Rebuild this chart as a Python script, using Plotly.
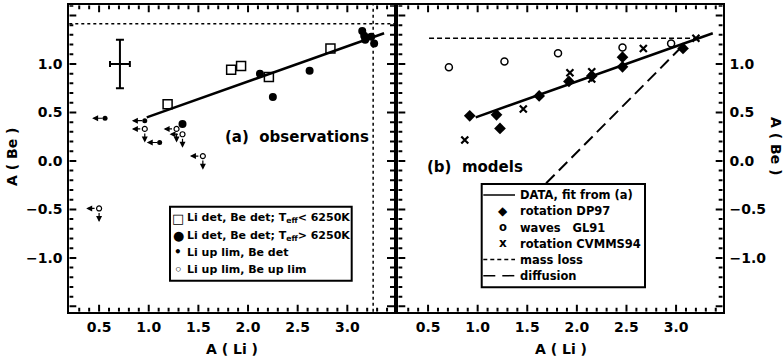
import plotly.graph_objects as go

# ---------------- panel (a) observations ----------------
sq_li = [1.19, 1.83, 1.93, 2.21, 2.83]            # Li det, Be det; Teff < 6250K
sq_be = [0.585, 0.94, 0.98, 0.865, 1.16]
hot_li = [1.34, 2.12, 2.25, 2.62, 3.15, 3.17, 3.18, 3.24, 3.27]   # Teff > 6250K
hot_be = [0.38, 0.90, 0.66, 0.93, 1.34, 1.29, 1.25, 1.28, 1.21]
lilim_li = [0.56, 0.96, 1.11]                      # Li up lim, Be det
lilim_be = [0.44, 0.415, 0.19]
bothlim_li = [0.50, 0.96, 1.28, 1.34, 1.545]       # Li up lim, Be up lim
bothlim_be = [-0.49, 0.33, 0.33, 0.275, 0.05]
err_li = [0.71]
err_be = [1.0]
err_dli = [0.10]
err_dbe = [0.25]
fit_li = [0.98, 3.37]
fit_slope = 0.363
fit_intercept = 0.094
li_met = 3.26
be_met = 1.415

# ---------------- panel (b) models ----------------
dp97_li = [0.92, 1.19, 1.225, 1.62, 1.92, 2.15, 2.46, 2.46, 3.07]
dp97_be = [0.465, 0.475, 0.335, 0.67, 0.82, 0.875, 0.97, 1.07, 1.16]
gl91_li = [0.71, 1.27, 1.81, 2.46, 2.95]
gl91_be = [0.965, 1.025, 1.11, 1.17, 1.21]
cv_li = [0.87, 1.46, 1.93, 2.15, 2.15, 2.67, 3.20]
cv_be = [0.215, 0.535, 0.91, 0.92, 0.845, 1.16, 1.265]
massloss_li = [0.51, 3.21]
massloss_be = [1.265, 1.265]
diff_li = [1.69, 3.06]
diff_be = [-0.23, 1.18]

# legend texts
legend_a = ["Li det, Be det; T<sub>eff</sub>< 6250K", "Li det, Be det; T<sub>eff</sub>> 6250K",
            "Li up lim, Be det", "Li up lim, Be up lim"]
legend_b = ["DATA, fit from (a)", "rotation DP97", "waves\u00a0\u00a0\u00a0GL91",
            "rotation CVMMS94", "mass loss", "diffusion"]

# axes
X_RANGE = [0.2, 3.47]
Y_RANGE = [-1.555, 1.605]
x_tick_index = list(range(3, 35))     # ticks every 0.1 in A(Li)
y_tick_index = list(range(-15, 17))   # ticks every 0.1 in A(Be)

LEFT_ARROW = 0.13
DOWN_ARROW = 0.14

FONT = "DejaVu Sans"
W, H = 783, 360
fit_be = [fit_intercept + fit_slope * v for v in fit_li]

fig = go.Figure()

# ---- panel (a) ----
fig.add_trace(go.Scatter(x=fit_li, y=fit_be, mode="lines", line=dict(color="black", width=2.5),
                         xaxis="x", yaxis="y"))
fig.add_trace(go.Scatter(x=err_li, y=err_be, mode="markers", marker=dict(size=1, color="black"),
                         error_x=dict(type="data", array=err_dli, color="black", thickness=2, width=3),
                         error_y=dict(type="data", array=err_dbe, color="black", thickness=2, width=4),
                         xaxis="x", yaxis="y"))
fig.add_trace(go.Scatter(x=sq_li, y=sq_be, mode="markers",
                         marker=dict(symbol="square-open", size=9, color="black", line=dict(width=1.5)),
                         xaxis="x", yaxis="y"))
fig.add_trace(go.Scatter(x=hot_li, y=hot_be, mode="markers",
                         marker=dict(symbol="circle", size=8, color="black"), xaxis="x", yaxis="y"))
fig.add_trace(go.Scatter(x=lilim_li, y=lilim_be, mode="markers",
                         marker=dict(symbol="circle", size=5, color="black"), xaxis="x", yaxis="y"))
fig.add_trace(go.Scatter(x=bothlim_li, y=bothlim_be, mode="markers",
                         marker=dict(symbol="circle-open", size=5, color="black", line=dict(width=1.2)),
                         xaxis="x", yaxis="y"))

# ---- panel (b) ----
fig.add_trace(go.Scatter(x=fit_li, y=fit_be, mode="lines", line=dict(color="black", width=2.5),
                         xaxis="x2", yaxis="y2"))
fig.add_trace(go.Scatter(x=dp97_li, y=dp97_be, mode="markers",
                         marker=dict(symbol="diamond", size=9, color="black"), xaxis="x2", yaxis="y2"))
fig.add_trace(go.Scatter(x=gl91_li, y=gl91_be, mode="markers",
                         marker=dict(symbol="circle-open", size=7, color="black", line=dict(width=1.5)),
                         xaxis="x2", yaxis="y2"))
fig.add_trace(go.Scatter(x=cv_li, y=cv_be, mode="markers",
                         marker=dict(symbol="x-thin-open", size=7, color="black", line=dict(width=2.2)),
                         xaxis="x2", yaxis="y2"))
fig.add_trace(go.Scatter(x=massloss_li, y=massloss_be, mode="lines",
                         line=dict(color="black", width=1.5, dash="5px,3px"), xaxis="x2", yaxis="y2"))
fig.add_trace(go.Scatter(x=diff_li, y=diff_be, mode="lines",
                         line=dict(color="black", width=2, dash="12px,6px"), xaxis="x2", yaxis="y2"))
fig.update_traces(showlegend=False)

# limit arrows
annotations = []
arrow_style = dict(xref="x", yref="y", axref="x", ayref="y", showarrow=True, arrowhead=2, arrowsize=1,
                   arrowwidth=1.2, arrowcolor="black", text="")
for xv, yv in zip(lilim_li, lilim_be):
    annotations.append(dict(x=xv - LEFT_ARROW, y=yv, ax=xv, ay=yv, startstandoff=1, **arrow_style))
for xv, yv in zip(bothlim_li, bothlim_be):
    annotations.append(dict(x=xv - LEFT_ARROW, y=yv, ax=xv, ay=yv, startstandoff=3, **arrow_style))
    annotations.append(dict(x=xv, y=yv - DOWN_ARROW, ax=xv, ay=yv, startstandoff=3, **arrow_style))


def txt(text, px, py, size, xanchor="center", angle=0):
    return dict(text=text, x=px / W, y=1 - py / H, xref="paper", yref="paper", showarrow=False,
                xanchor=xanchor, yanchor="middle", textangle=angle,
                font=dict(family=FONT, size=size, color="black", weight="bold"))


annotations += [
    txt("(a)\u00a0 observations", 222.7, 137.3, 15, "left"),
    txt("(b)\u00a0 models", 425, 167, 15, "left"),
    txt("A ( Li )", 231.6, 349, 14),
    txt("A ( Li )", 560.5, 349, 14),
    txt("A ( Be )", 12, 157, 14, angle=-90),
    txt("A ( Be )", 776, 146, 14, angle=90),
]

shapes = [
    dict(type="line", xref="x domain", x0=0, x1=1, yref="y", y0=be_met, y1=be_met,
         line=dict(color="black", width=1.5, dash="dot")),
    dict(type="line", xref="x", x0=li_met, x1=li_met, yref="y domain", y0=0, y1=1,
         line=dict(color="black", width=1.5, dash="dot")),
]

# inward ticks on all four sides of both panels (major every 0.5, minor every 0.1),
# tick lengths converted from pixels to axis units
x_unit = (394 - 69.3) / (X_RANGE[1] - X_RANGE[0])      # px per A(Li)
y_unit = (311.7 - 5.3) / (Y_RANGE[1] - Y_RANGE[0])     # px per A(Be)
for xr, yr in (("x", "y"), ("x2", "y2")):
    for i in x_tick_index:
        v = round(i * 0.1, 1)
        L = (7 if i % 5 == 0 else 4) / y_unit
        for base, sign in ((Y_RANGE[0], 1), (Y_RANGE[1], -1)):
            shapes.append(dict(type="line", xref=xr, yref=yr, x0=v, x1=v, y0=base, y1=base + sign * L,
                               line=dict(color="black", width=2)))
    for i in y_tick_index:
        v = round(i * 0.1, 1)
        L = (7 if i % 5 == 0 else 4) / x_unit
        for base, sign in ((X_RANGE[0], 1), (X_RANGE[1], -1)):
            shapes.append(dict(type="line", xref=xr, yref=yr, y0=v, y1=v, x0=base, x1=base + sign * L,
                               line=dict(color="black", width=2)))


def prect(x0, y0, x1, y1):
    return dict(type="rect", xref="paper", yref="paper", x0=x0 / W, x1=x1 / W, y0=1 - y1 / H, y1=1 - y0 / H,
                line=dict(color="black", width=2), fillcolor="white", layer="above")


def pline(x0, x1, py, dash, width):
    return dict(type="line", xref="paper", yref="paper", x0=x0 / W, x1=x1 / W, y0=1 - py / H, y1=1 - py / H,
                line=dict(color="black", width=width, dash=dash), layer="above")


# ---- legend of panel (a) ----
shapes.append(prect(170, 206.7, 351.7, 280.7))
rows_a = [218.3, 235.5, 252.5, 269.3]
glyphs_a = [("\u25a1", 13), ("\u25cf", 13), ("\u2022", 12), ("\u25e6", 13)]
for (g, gs), label, ry in zip(glyphs_a, legend_a, rows_a):
    annotations.append(txt(g, 178.3, ry, gs))
    annotations.append(txt(label, 184.5, ry, 11, "left"))

# ---- legend of panel (b) ----
shapes.append(prect(481.7, 184, 645, 287.3))
rows_b = [195, 211.3, 227.7, 244, 259.5, 275.7]
shapes.append(pline(483.3, 515, rows_b[0], "solid", 1.5))
shapes.append(pline(483.3, 515, rows_b[4], "4px,3px", 1.5))
shapes.append(pline(483.3, 515, rows_b[5], "12px,7px", 1.5))
annotations.append(txt("\u25c6", 503.3, rows_b[1], 12))
annotations.append(txt("o", 503.3, rows_b[2] - 1, 11.5))
annotations.append(txt("x", 503.3, rows_b[3] - 1, 12))
for label, ry in zip(legend_b, rows_b):
    annotations.append(txt(label, 518.3, ry, 11.5, "left"))

tickfont = dict(family=FONT, size=14, color="black", weight="bold")
alias = {"1.5": "", "-1.5": "", "\u22121.5": ""}


def xax(domain, anchor):
    return dict(domain=domain, anchor=anchor, range=X_RANGE, tickmode="linear", tick0=0, dtick=0.5,
                tickformat=".1f", ticks="",
                showline=True, linewidth=2, linecolor="black", mirror=True,
                showgrid=False, zeroline=False, tickfont=tickfont, automargin=False, ticklabelstandoff=1)


def yax(domain, anchor, side):
    return dict(domain=domain, anchor=anchor, side=side, range=Y_RANGE, tickmode="linear", tick0=0,
                dtick=0.5, tickformat=".1f", labelalias=alias, ticks="",
                showline=True, linewidth=2, linecolor="black", mirror=True,
                showgrid=False, zeroline=False, tickfont=tickfont, automargin=False, ticklabelstandoff=2)


ydom = [1 - 311.7 / H, 1 - 5.3 / H]
fig.update_layout(
    width=W, height=H, margin=dict(l=0, r=0, t=0, b=0),
    paper_bgcolor="white", plot_bgcolor="white", showlegend=False,
    xaxis=xax([69.3 / W, 394 / W], "y"),
    yaxis=yax(ydom, "x", "left"),
    xaxis2=xax([398.3 / W, 722.7 / W], "y2"),
    yaxis2=yax(ydom, "x2", "right"),
    annotations=annotations,
    shapes=shapes,
)

fig.write_html("out.html", config={"displayModeBar": False, "staticPlot": True},
               post_script="document.body.style.margin='0px';document.body.style.padding='0px';")
